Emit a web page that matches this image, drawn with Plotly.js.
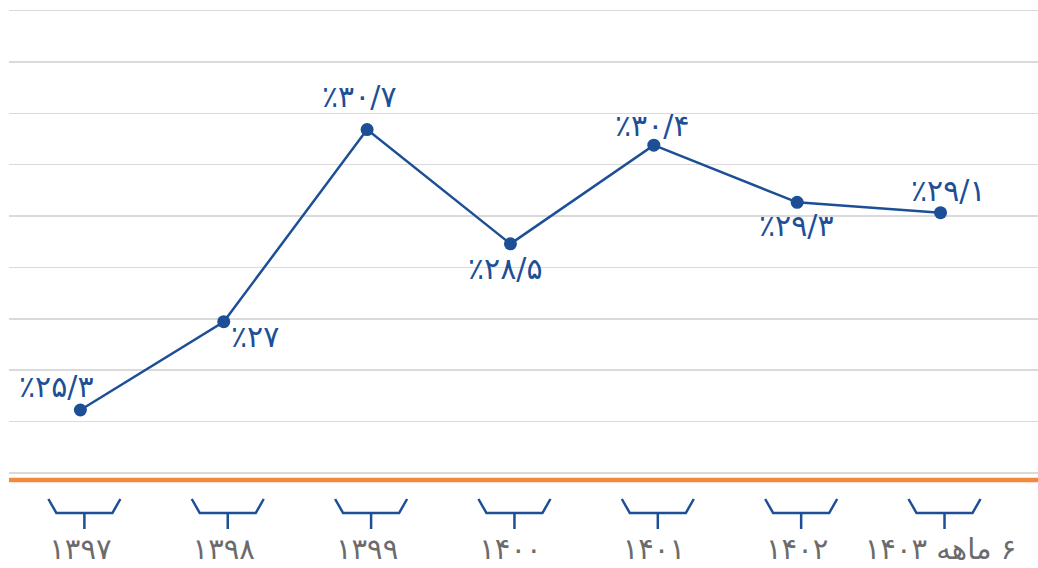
<!DOCTYPE html>
<html>
<head>
<meta charset="utf-8">
<script src="https://cdn.plot.ly/plotly-3.0.1.min.js"></script>
<style>html,body{margin:0;padding:0;background:#fff;}#chart{width:1038px;height:568px;}</style>
</head>
<body>
<div id="chart"></div>
<script>
// Data
const categories = ["۱۳۹۷", "۱۳۹۸", "۱۳۹۹", "۱۴۰۰", "۱۴۰۱", "۱۴۰۲", "\u202B۶ ماهه ۱۴۰۳\u202C"];
const values = [25.3, 27, 30.7, 28.5, 30.4, 29.3, 29.1];
const valueLabels = ["٪۲۵/۳", "٪۲۷", "٪۳۰/۷", "٪۲۸/۵", "٪۳۰/۴", "٪۲۹/۳", "٪۲۹/۱"];

// Styling: label offsets in pixels from each point [dx, dy(up)]
const labelShiftX = [-24, 31, -8, -5, -1, -1, 8];
const labelShiftY = [23, -15, 33, -25, 20, -23, 22];

const blue = "#1D4F97";

const trace = {
  type: "scatter",
  mode: "lines+markers",
  x: categories,
  y: values,
  line: {color: blue, width: 2.5},
  marker: {color: blue, size: 13},
  hoverinfo: "none",
  cliponaxis: false
};

const annotations = valueLabels.map((t, i) => ({
  x: categories[i], y: values[i], xref: "x", yref: "y",
  text: t, showarrow: false,
  xanchor: "center", yanchor: "middle",
  xshift: labelShiftX[i], yshift: labelShiftY[i],
  font: {family: "DejaVu Sans", size: 30, color: blue}
}));

const bracketPath = "M -32,-21 L -24,-35 L 32,-35 L 40,-21 M 4,-35 L 4,-51";
const shapes = categories.map(c => ({
  type: "path",
  xref: "x", yref: "paper",
  xsizemode: "pixel", ysizemode: "pixel",
  xanchor: c, yanchor: 0,
  path: bracketPath,
  line: {color: blue, width: 2.5}
}));
shapes.push({
  type: "line", xref: "paper", yref: "paper",
  ysizemode: "pixel", yanchor: 0,
  x0: 0, x1: 1, y0: -2, y1: -2,
  line: {color: "#F28A3E", width: 4.5}
});

const layout = {
  width: 1038, height: 568,
  margin: {l: 9, r: 0, t: 5, b: 90},
  paper_bgcolor: "#ffffff", plot_bgcolor: "#ffffff",
  showlegend: false,
  xaxis: {
    type: "category",
    range: [-0.498, 6.68],
    showgrid: false, zeroline: false, showline: false,
    ticks: "",
    ticklabelstandoff: 51,
    tickfont: {family: "DejaVu Sans", size: 29, color: "#6B6B6B"}
  },
  yaxis: {
    range: [23.99, 33.10],
    tick0: 24.086, dtick: 0.9898,
    showticklabels: false, zeroline: false, showline: false,
    gridcolor: "#DADADA", gridwidth: 1.5
  },
  shapes: shapes,
  annotations: annotations
};

Plotly.newPlot("chart", [trace], layout, {displayModeBar: false, staticPlot: true});
</script>
</body>
</html>
